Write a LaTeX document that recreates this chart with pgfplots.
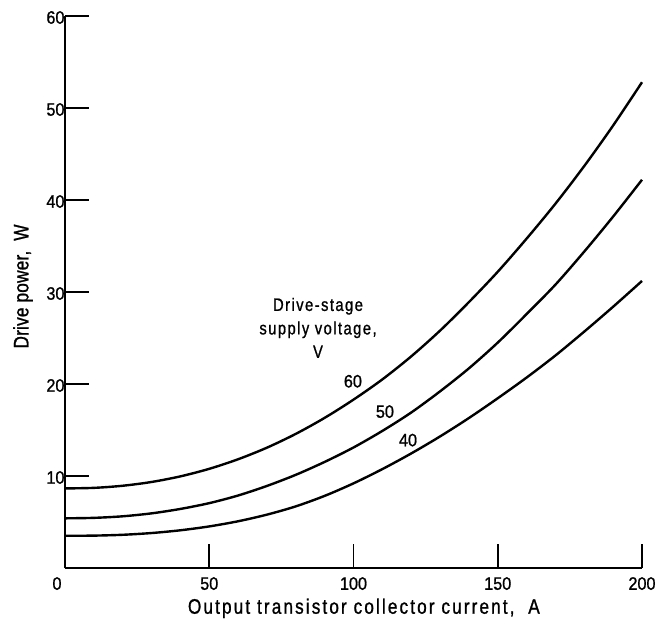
\documentclass[border=0pt]{standalone}
\usepackage{pgfplots}
\pgfplotsset{compat=1.18}
\usepackage{fontspec}
\setmainfont{Liberation Sans}[FakeStretch=0.9, FakeBold=1]
\newfontfamily\lblfont{Liberation Sans}[FakeStretch=0.82, LetterSpace=10, FakeBold=1]
\newfontfamily\ylblfont{Liberation Sans}[FakeStretch=0.82, LetterSpace=1, FakeBold=1]
\newfontfamily\notefont{Liberation Sans}[FakeStretch=0.82, LetterSpace=8, FakeBold=1]
\begin{document}
\begin{tikzpicture}[x=1pt,y=1pt]
\begin{axis}[
  scale only axis,
  width=577pt, height=552pt,
  xmin=0, xmax=200, ymin=0, ymax=60,
  axis x line=bottom, axis y line=left,
  axis line style={-, line width=1.6pt},
  xtick={50,100,150,200},
  extra x ticks={0},
  extra x tick style={xticklabel style={xshift=-8pt}},
  ytick={10,20,30,40,50,60},
  tick align=inside,
  major tick length=24pt,
  every tick/.style={black, line width=1.6pt},
  tick label style={font=\fontsize{18}{20}\selectfont},
  /pgf/number format/assume math mode=true,
  xticklabel style={yshift=-8pt, inner sep=1pt},
  yticklabel style={xshift=3pt, yshift=-1.5pt},
  xlabel={Output transistor collector current,\ \ A},
  ylabel={Drive power,\ \ W},
  xlabel style={font=\lblfont\fontsize{21}{24}\selectfont, at={(axis description cs:0.518,-0.073)}, anchor=center, inner sep=1pt},
  ylabel style={font=\ylblfont\fontsize{21}{24}\selectfont, at={(axis description cs:-0.0728,0.51)}, anchor=center},
  clip=false,
]
\addplot[black, line width=2.4pt, smooth] coordinates {
(0,8.65) (10,8.71) (20,8.94) (30,9.35) (40,9.96) (50,10.78) (60,11.82) (70,13.08) (80,14.58) (90,16.32)
(100,18.3) (110,20.5) (120,23.0) (130,25.8) (140,28.9) (150,32.2) (160,35.8) (170,39.6) (180,43.7) (190,48.1) (200,52.8)};
\addplot[black, line width=2.4pt, smooth] coordinates {
(0,5.4) (10,5.45) (20,5.62) (30,5.94) (40,6.42) (50,7.05) (60,7.88) (70,8.92) (80,10.13) (90,11.53)
(100,13.1) (110,14.9) (120,16.9) (130,19.2) (140,21.7) (150,24.5) (160,27.6) (170,30.8) (180,34.4) (190,38.2) (200,42.2)};
\addplot[black, line width=2.4pt, smooth] coordinates {
(0,3.5) (10,3.52) (20,3.61) (30,3.8) (40,4.1) (50,4.52) (60,5.08) (70,5.8) (80,6.7) (90,7.84)
(100,9.2) (110,10.75) (120,12.45) (130,14.3) (140,16.3) (150,18.45) (160,20.7) (170,23.1) (180,25.7) (190,28.4) (200,31.2)};
\node[align=center, font=\notefont\fontsize{18}{23.5}\selectfont] at (axis cs:87.7,26.1) {Drive-stage\\supply voltage,\\V};
\node[font=\fontsize{18}{20}\selectfont] at (axis cs:99.8,20.3) {60};
\node[font=\fontsize{18}{20}\selectfont] at (axis cs:110.9,17.0) {50};
\node[font=\fontsize{18}{20}\selectfont] at (axis cs:118.9,13.9) {40};
\end{axis}
\pgfresetboundingbox
\path (current axis.south west) ++(-65pt,-54pt) rectangle ++(657pt,622pt);
\end{tikzpicture}
\end{document}
